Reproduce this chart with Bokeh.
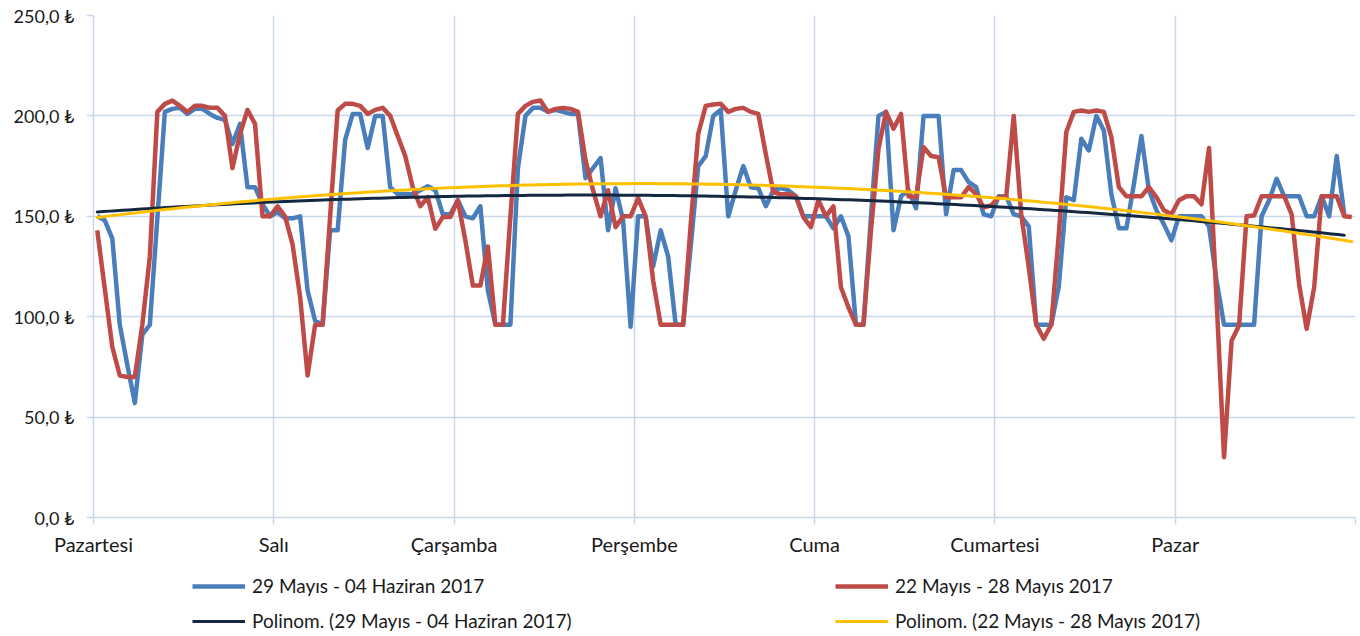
import numpy as np
from bokeh.plotting import figure
from bokeh.layouts import column
from bokeh.models import FixedTicker, Legend, LegendItem, ColumnDataSource, Range1d
from bokeh.embed import file_html
from bokeh.resources import INLINE

# ---- data (hourly values) ----
days = ["Pazartesi", "Salı", "Çarşamba", "Perşembe", "Cuma", "Cumartesi", "Pazar"]
y_ticks = [0, 50, 100, 150, 200, 250]
y_labels = ["0,0 ₺", "50,0 ₺", "100,0 ₺", "150,0 ₺", "200,0 ₺", "250,0 ₺"]

name_blue = "29 Mayıs - 04 Haziran 2017"
name_red = "22 Mayıs - 28 Mayıs 2017"
name_blue_trend = "Polinom. (29 Mayıs - 04 Haziran 2017)"
name_red_trend = "Polinom. (22 Mayıs - 28 Mayıs 2017)"

blue = [
    150, 148, 139, 96, 76, 57, 91, 96, 149, 202, 203.5, 204, 201, 203.5, 203.5, 201, 199, 198, 186, 196, 164.5, 164.5, 156, 150,
    152, 149, 149, 150, 113, 98, 96, 143, 143, 188, 201, 201, 184, 200, 200, 164.5, 161, 161, 161, 163, 165, 163, 151, 151,
    158, 150, 149, 155, 113, 96, 96, 96, 174, 200, 204, 204, 202, 203, 202, 201, 201, 169, 174, 179, 143, 164, 148, 95,
    150, 150, 125, 143, 130, 96, 96, 135, 175, 180, 200, 203, 150, 163, 175, 164.5, 164, 155, 163, 164, 163, 160, 150, 150,
    150, 150, 144, 150, 140, 96, 96, 150, 200, 202, 143, 160, 163, 154, 200, 200, 200, 151, 173, 173, 167, 164.5, 151, 150,
    160, 160, 151, 150, 145, 96, 96, 96, 115, 159.5, 158, 188.6, 182.8, 200, 192.7, 161, 144, 144, 166, 190, 163, 153, 146, 138,
    150, 150, 150, 150, 145, 118, 96, 96, 96, 96, 96, 150, 158, 168.7, 160, 160, 160, 150, 150, 160, 150, 180, 151,
]
red = [
    143, 114, 85, 70.7, 70, 70, 96, 130, 202, 206, 207.6, 205, 202, 205, 205, 204, 204, 200, 174, 191, 203, 196, 150, 150,
    155, 150, 136, 110, 70.7, 96, 96, 150, 202.7, 206, 206, 205, 201, 203, 204, 200, 190, 180, 164.5, 155, 159.5, 143.8, 149.6, 149.6,
    158, 138, 115.5, 115.5, 135, 96, 96, 150, 201, 205, 207, 207.7, 202, 203.5, 204, 203.5, 202, 178, 163, 150, 163, 144.6, 150, 150,
    159, 150, 118, 96, 96, 96, 96, 146, 191, 205, 205.7, 206, 202, 203.5, 204, 202, 201, 181, 162, 161, 161, 160, 149.6, 144.6,
    158, 150, 155, 114.7, 104.7, 96, 96, 143, 183.6, 202, 193.6, 201, 160, 159.5, 184.4, 180, 179.4, 159.5, 159.5, 159.5, 164.5, 161, 154.5, 155.4,
    159.5, 159.5, 200, 151, 124.7, 96, 89, 96, 141, 192, 202, 202.7, 202, 202.7, 202, 189.4, 164.5, 160, 160, 160, 164.5, 159.5, 153, 151,
    158, 160, 160, 156, 184, 109, 30, 88, 95.6, 150, 150.4, 160, 160, 160, 160, 151, 116, 94, 114.7, 160, 160, 160, 150, 149.6,
]

# ---- derived: 2nd order polynomial trend lines ----
xb = np.arange(len(blue)) + 0.5
xr = np.arange(len(red)) + 0.5
cb = np.polyfit(xb, blue, 2)
cr = np.polyfit(xr, red, 2)
xbt = np.linspace(xb[0], xb[-1], 200)
xrt = np.linspace(xr[0], xr[-1], 200)

FONT = "Lato"
GRID = "#c9d7ea"
C_BLUE = "#4a7ebb"
C_RED = "#be4b48"
C_NAVY = "#142841"
C_YEL = "#ffc000"
TXT = "#1a1a1a"

STY = [dict(line_color=C_BLUE, line_width=4.5),
       dict(line_color=C_RED, line_width=4.5),
       dict(line_color=C_NAVY, line_width=3),
       dict(line_color=C_YEL, line_width=3)]

p = figure(width=1360, height=560, output_backend="svg", toolbar_location=None,
           x_range=(0, 168), y_range=(0, 250),
           min_border_left=93, min_border_right=5, min_border_top=15, min_border_bottom=43)
p.outline_line_color = None
p.background_fill_color = "white"
p.border_fill_color = "white"

# axes
p.xaxis.ticker = FixedTicker(ticks=[0, 24, 48, 72, 96, 120, 144, 168])
p.xaxis.major_label_overrides = {0: days[0], 24: days[1], 48: days[2], 72: days[3],
                                 96: days[4], 120: days[5], 144: days[6], 168: ""}
p.yaxis.ticker = FixedTicker(ticks=y_ticks)
p.yaxis.major_label_overrides = {t: l for t, l in zip(y_ticks, y_labels)}
for ax in (p.xaxis, p.yaxis):
    ax.axis_line_color = GRID
    ax.axis_line_width = 1.5
    ax.major_tick_line_color = GRID
    ax.major_tick_line_width = 1.5
    ax.major_tick_in = 0
    ax.major_tick_out = 7
    ax.minor_tick_line_color = None
    ax.major_label_text_font = FONT
    ax.major_label_text_color = TXT
p.xaxis.major_label_text_font_size = "20px"
p.yaxis.major_label_text_font_size = "18px"
p.xaxis.major_label_standoff = 7
p.yaxis.major_label_standoff = 12

p.xgrid.ticker = FixedTicker(ticks=[24, 48, 72, 96, 120, 144, 168])
p.xgrid.grid_line_color = GRID
p.xgrid.grid_line_width = 1.5
p.ygrid.grid_line_color = GRID
p.ygrid.grid_line_width = 1.5

# series
p.line(xb, blue, line_join="round", **STY[0])
p.line(xr, red, line_join="round", **STY[1])
p.line(xbt, np.polyval(cb, xbt), line_cap="round", **STY[2])
p.line(xrt, np.polyval(cr, xrt), line_cap="round", **STY[3])

# ---- legend strip below the chart (its frame is aligned with the chart frame) ----
pl = figure(width=1360, height=76, output_backend="svg", toolbar_location=None,
            x_range=Range1d(0, 1), y_range=Range1d(0, 1),
            x_axis_type=None, y_axis_type=None,
            min_border_left=0, min_border_right=0, min_border_top=0, min_border_bottom=0)
pl.outline_line_color = None
pl.grid.visible = False
proxy = ColumnDataSource(data=dict(x=[np.nan], y=[np.nan]))
lr = [pl.line("x", "y", source=proxy, **s) for s in STY]

def mk_legend(items, loc):
    return Legend(items=items, location=loc, orientation="vertical",
                  label_text_font=FONT, label_text_font_size="19px", label_text_color=TXT,
                  glyph_width=53, glyph_height=20, label_height=20, label_standoff=7,
                  spacing=12, padding=0, margin=0,
                  border_line_color=None, background_fill_alpha=0)

pl.add_layout(mk_legend([LegendItem(label=name_blue, renderers=[lr[0]]),
                         LegendItem(label=name_blue_trend, renderers=[lr[2]])], (99, 4)))
pl.add_layout(mk_legend([LegendItem(label=name_red, renderers=[lr[1]]),
                         LegendItem(label=name_red_trend, renderers=[lr[3]])], (742, 4)))

open("out.html", "w").write(file_html(column(p, pl, spacing=0), INLINE))
